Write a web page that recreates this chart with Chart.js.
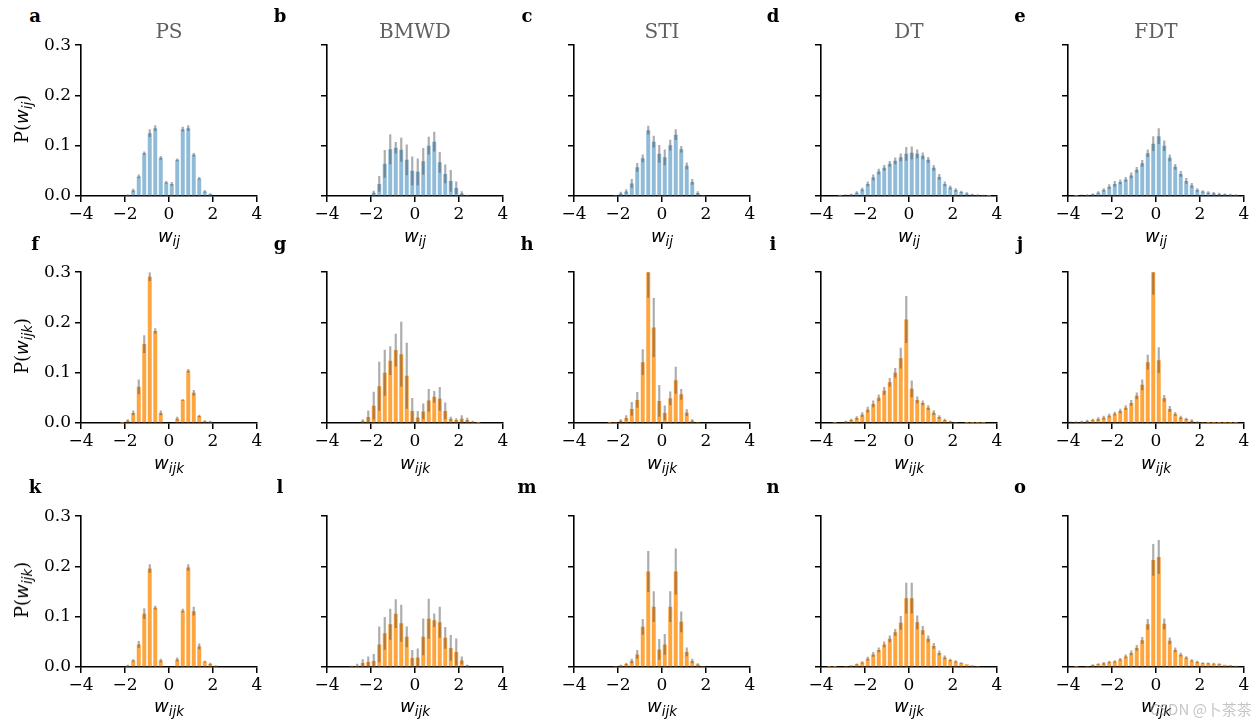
<!DOCTYPE html>
<html><head><meta charset="utf-8">
<script src="https://cdn.jsdelivr.net/npm/chart.js@4/dist/chart.umd.min.js"></script>
<style>
html,body{margin:0;padding:0;background:#fff;}
body{width:1256px;height:727px;position:relative;overflow:hidden;font-family:"DejaVu Serif",serif;}
canvas{position:absolute;}
.t{position:absolute;white-space:nowrap;line-height:1;}
.letter{font-weight:bold;font-size:18px;transform:translate(-50%,-50%);}
.title{font-size:20px;color:#606060;transform:translate(-50%,-50%);}
.xl{font-size:18px;transform:translateX(-50%);}
.yl{font-size:18px;transform:translate(-50%,-50%) rotate(-90deg);}
.m{font-family:"DejaVu Sans",sans-serif;font-style:italic;}
.s{font-family:"DejaVu Sans",sans-serif;font-style:italic;font-size:13.5px;position:relative;top:4px;}
.wm{font-family:"Noto Sans CJK SC",sans-serif;font-size:15px;color:rgba(150,150,150,0.55);transform:translateY(-50%);}
</style>
</head><body>
<script>
// ---- data ----
const binCenters = [-3.875,-3.625,-3.375,-3.125,-2.875,-2.625,-2.375,-2.125,-1.875,-1.625,-1.375,-1.125,-0.875,-0.625,-0.375,-0.125,
                    0.125,0.375,0.625,0.875,1.125,1.375,1.625,1.875,2.125,2.375,2.625,2.875,3.125,3.375,3.625,3.875];
const xTicks = [-4,-2,0,2,4];
const yTicks = [0,0.1,0.2,0.3];
const methods = ['PS','BMWD','STI','DT','FDT'];
const panelLetters = ['a','b','c','d','e','f','g','h','i','j','k','l','m','n','o'];

// row 1: P(w_ij)
const psPair      = [0,0,0,0,0,0,0,0, 0.002,0.011,0.039,0.085,0.125,0.135,0.076,0.027, 0.024,0.072,0.133,0.135,0.082,0.035,0.009,0.004, 0,0,0,0,0,0,0,0];
const psPairErr   = [0,0,0,0,0,0,0,0, 0.001,0.003,0.003,0.003,0.007,0.005,0.003,0.002, 0.003,0.002,0.004,0.005,0.003,0.002,0.002,0.001, 0,0,0,0,0,0,0,0];
const bmwdPair    = [0,0,0,0,0,0,0,0, 0.0066,0.024,0.064,0.093,0.096,0.092,0.072,0.050, 0.048,0.069,0.100,0.108,0.067,0.044,0.030,0.016, 0.005,0.001,0,0,0,0,0,0];
const bmwdPairErr = [0,0,0,0,0,0,0,0, 0.003,0.015,0.027,0.029,0.011,0.023,0.030,0.028, 0.026,0.026,0.017,0.019,0.020,0.018,0.021,0.012, 0.004,0.001,0,0,0,0,0,0];
const stiPair     = [0,0,0,0,0,0,0,0.001, 0.005,0.009,0.025,0.057,0.075,0.131,0.108,0.084, 0.077,0.101,0.122,0.093,0.060,0.028,0.006,0.001, 0,0,0,0,0,0,0,0];
const stiPairErr  = [0,0,0,0,0,0,0,0, 0.003,0.004,0.008,0.008,0.007,0.008,0.011,0.017, 0.015,0.010,0.010,0.006,0.006,0.005,0.003,0, 0,0,0,0,0,0,0,0];
const dtPair      = [0,0,0,0.0007,0.0013,0.003,0.0066,0.013, 0.024,0.037,0.0485,0.056,0.064,0.070,0.077,0.084, 0.086,0.084,0.080,0.072,0.056,0.038,0.024,0.017, 0.012,0.008,0.005,0.003,0.002,0.001,0.0007,0];
const dtPairErr   = [0,0,0,0.001,0.001,0.001,0.002,0.003, 0.004,0.005,0.005,0.005,0.005,0.006,0.007,0.013, 0.012,0.008,0.006,0.005,0.005,0.005,0.004,0.003, 0.003,0.002,0.002,0.001,0.001,0.001,0,0];
const fdtPair     = [0,0.0007,0.0013,0.002,0.0033,0.0066,0.012,0.0186, 0.024,0.028,0.033,0.041,0.052,0.065,0.085,0.104, 0.119,0.100,0.076,0.058,0.044,0.030,0.021,0.012, 0.009,0.0066,0.0053,0.004,0.0033,0.0027,0.002,0];
const fdtPairErr  = [0,0,0.001,0.001,0.001,0.002,0.003,0.004, 0.005,0.004,0.004,0.005,0.005,0.006,0.007,0.014, 0.015,0.010,0.006,0.005,0.005,0.005,0.004,0.003, 0.002,0.002,0.002,0.002,0.001,0.001,0.001,0];

// row 2: P(w_ijk)
const psTri       = [0,0,0,0,0,0,0,0.0007, 0.0046,0.020,0.072,0.157,0.291,0.183,0.020,0, 0,0.0086,0.046,0.104,0.060,0.014,0.004,0.0026, 0,0,0,0,0,0,0,0];
const psTriErr    = [0,0,0,0,0,0,0,0, 0.002,0.004,0.014,0.017,0.008,0.005,0.004,0, 0,0.003,0.001,0.003,0.005,0.002,0.001,0.001, 0,0,0,0,0,0,0,0];
const bmwdTri     = [0,0,0,0,0,0,0.004,0.012, 0.0345,0.073,0.100,0.124,0.145,0.137,0.094,0.024, 0.011,0.023,0.045,0.052,0.048,0.024,0.008,0.006, 0.0086,0.006,0.0026,0.0007,0,0,0,0];
const bmwdTriErr  = [0,0,0,0,0,0,0.003,0.012, 0.027,0.048,0.045,0.028,0.032,0.064,0.065,0.025, 0.012,0.015,0.022,0.011,0.023,0.016,0.004,0.003, 0.006,0.004,0.001,0,0,0,0,0];
const stiTri      = [0,0,0,0,0,0,0.0007,0.002, 0.0046,0.010,0.028,0.046,0.121,0.310,0.190,0.044, 0.020,0.049,0.085,0.057,0.0206,0.0046,0.001,0, 0,0,0,0,0,0,0,0];
const stiTriErr   = [0,0,0,0,0,0,0,0, 0.002,0.005,0.013,0.015,0.025,0.060,0.058,0.031, 0.014,0.013,0.026,0.010,0.006,0.002,0,0, 0,0,0,0,0,0,0,0];
const dtTri       = [0,0,0.0007,0.0013,0.003,0.006,0.010,0.0166, 0.0265,0.038,0.050,0.064,0.081,0.100,0.129,0.206, 0.068,0.046,0.040,0.0305,0.0206,0.012,0.006,0.003, 0.002,0.0013,0.0007,0.0007,0.0005,0.0003,0,0];
const dtTriErr    = [0,0,0,0,0.001,0.002,0.003,0.004, 0.005,0.006,0.006,0.007,0.008,0.009,0.020,0.046, 0.016,0.006,0.004,0.004,0.004,0.003,0.002,0.001, 0,0,0,0,0,0,0,0];
const fdtTri      = [0.0013,0.002,0.0026,0.004,0.006,0.008,0.0106,0.0146, 0.0186,0.0239,0.0305,0.040,0.054,0.076,0.121,0.310, 0.125,0.049,0.028,0.018,0.011,0.008,0.0046,0.002, 0.001,0.0005,0.0005,0.0005,0.0005,0.0005,0.0005,0];
const fdtTriErr   = [0.001,0.001,0.001,0.002,0.002,0.003,0.003,0.003, 0.003,0.004,0.004,0.005,0.006,0.010,0.014,0.054, 0.025,0.006,0.005,0.003,0.003,0.002,0.002,0.001, 0,0,0,0,0,0,0,0];

// row 3: P(w_ijk)
const psTriB      = [0,0,0,0,0,0,0,0, 0.0026,0.013,0.045,0.106,0.196,0.118,0.013,0, 0,0.015,0.112,0.198,0.111,0.041,0.011,0.006, 0.002,0,0,0,0,0,0,0];
const psTriBErr   = [0,0,0,0,0,0,0,0, 0.001,0.002,0.006,0.010,0.008,0.003,0.003,0, 0,0.003,0.003,0.006,0.008,0.005,0.001,0.002, 0.001,0,0,0,0,0,0,0];
const bmwdTriB    = [0,0,0,0,0.001,0.0026,0.008,0.010, 0.012,0.045,0.067,0.085,0.106,0.087,0.060,0.018, 0.019,0.060,0.096,0.093,0.089,0.058,0.038,0.030, 0.013,0.003,0,0,0,0,0,0];
const bmwdTriBErr = [0,0,0,0,0.001,0.003,0.007,0.010, 0.013,0.035,0.032,0.030,0.028,0.036,0.020,0.015, 0.017,0.036,0.039,0.013,0.030,0.021,0.025,0.026, 0.007,0.001,0,0,0,0,0,0];
const stiTriB     = [0,0,0,0,0,0,0,0.001, 0.003,0.006,0.012,0.025,0.080,0.190,0.120,0.035, 0.045,0.120,0.190,0.090,0.030,0.012,0.005,0.002, 0,0,0,0,0,0,0,0];
const stiTriBErr  = [0,0,0,0,0,0,0,0, 0.001,0.002,0.004,0.008,0.015,0.040,0.030,0.020, 0.020,0.030,0.045,0.020,0.008,0.004,0.002,0, 0,0,0,0,0,0,0,0];
const dtTriB      = [0,0.0005,0.0007,0.0013,0.002,0.0033,0.0053,0.009, 0.0165,0.025,0.034,0.045,0.056,0.069,0.088,0.137, 0.137,0.089,0.073,0.056,0.042,0.028,0.019,0.014, 0.011,0.008,0.0053,0.0033,0.002,0.0013,0,0];
const dtTriBErr   = [0,0,0,0,0,0,0.001,0.002, 0.003,0.004,0.004,0.005,0.006,0.006,0.013,0.030, 0.030,0.013,0.008,0.006,0.005,0.004,0.003,0.002, 0.002,0.001,0,0,0,0,0,0];
const fdtTriB     = [0,0.0007,0.0013,0.002,0.004,0.006,0.0073,0.010, 0.011,0.015,0.021,0.028,0.038,0.053,0.085,0.213, 0.219,0.086,0.052,0.034,0.0245,0.0185,0.013,0.010, 0.008,0.0073,0.0066,0.006,0.0046,0.004,0.0026,0];
const fdtTriBErr  = [0,0,0,0,0.001,0.001,0.002,0.002, 0.002,0.002,0.003,0.004,0.005,0.006,0.010,0.031, 0.033,0.010,0.006,0.004,0.003,0.002,0.002,0.002, 0.001,0.001,0.001,0.001,0,0,0,0];

// ---- layout / style ----
const BLUE = '#8fbbd9', ORANGE = '#ffa53e', ERR = 'rgba(70,70,70,0.45)';
const rows = [
  {vals:[psPair,bmwdPair,stiPair,dtPair,fdtPair], errs:[psPairErr,bmwdPairErr,stiPairErr,dtPairErr,fdtPairErr], color:BLUE, sub:'ij'},
  {vals:[psTri,bmwdTri,stiTri,dtTri,fdtTri], errs:[psTriErr,bmwdTriErr,stiTriErr,dtTriErr,fdtTriErr], color:ORANGE, sub:'ijk'},
  {vals:[psTriB,bmwdTriB,stiTriB,dtTriB,fdtTriB], errs:[psTriBErr,bmwdTriBErr,stiTriBErr,dtTriBErr,fdtTriBErr], color:ORANGE, sub:'ijk'}
];
const colLeft = [81,327,574,821,1068];
const rowTop = [45,272,516];
const PW = 176, PH = 151, LEFTW = 80, TOPP = 14, RIGHTP = 22, BOTH = 40;
const letterX = [35,280,527,773,1020], letterY = [16,244,487];
const xLabelY = [227,454,697];

function addText(cls, html, x, y){
  const d = document.createElement('div');
  d.className = 't ' + cls; d.innerHTML = html;
  d.style.left = x + 'px'; d.style.top = y + 'px';
  document.body.appendChild(d);
  return d;
}

function makeChart(r, c){
  const cv = document.createElement('canvas');
  const W = LEFTW + PW + RIGHTP, H = TOPP + PH + BOTH;
  cv.width = W; cv.height = H;
  cv.style.width = W + 'px'; cv.style.height = H + 'px';
  cv.style.left = (colLeft[c] - LEFTW) + 'px'; cv.style.top = (rowTop[r] - TOPP) + 'px';
  document.body.appendChild(cv);
  const vals = rows[r].vals[c], errs = rows[r].errs[c];
  const barData = binCenters.map((x,i)=>({x:x, y:vals[i]}));
  const errData = [];
  binCenters.forEach((x,i)=>{ if (errs[i] > 0) errData.push({x:x, y:[vals[i]-errs[i], vals[i]+errs[i]]}); });
  const showY = c === 0;
  new Chart(cv, {
    type:'bar',
    data:{datasets:[
      {data:errData, backgroundColor:ERR, barThickness:1.5, grouped:false, order:0, borderWidth:0},
      {data:barData, backgroundColor:rows[r].color, categoryPercentage:1, barPercentage:0.72, grouped:false, order:1, borderWidth:0}
    ]},
    options:{
      responsive:false, animation:false, events:[],
      layout:{padding:{left:0, top:TOPP, right:RIGHTP, bottom:0}},
      plugins:{legend:{display:false}, tooltip:{enabled:false}, title:{display:false}},
      scales:{
        x:{type:'linear', min:xTicks[0], max:xTicks[xTicks.length-1], offset:false,
           afterFit:(s)=>{s.height = BOTH;},
           afterBuildTicks:(s)=>{s.ticks = xTicks.map(v=>({value:v}));},
           grid:{display:true, offset:false, drawOnChartArea:false, drawTicks:true, tickLength:6, color:'#000', lineWidth:1.5},
           border:{display:true, color:'#000', width:1.6},
           ticks:{font:{family:'DejaVu Serif', size:17}, color:'#000', padding:2, maxRotation:0,
                  callback:(v)=>String(v).replace('-', '\u2212')}},
        y:{type:'linear', min:yTicks[0], max:yTicks[yTicks.length-1],
           afterFit:(s)=>{s.width = LEFTW;},
           afterBuildTicks:(s)=>{s.ticks = yTicks.map(v=>({value:v}));},
           grid:{display:true, drawOnChartArea:false, drawTicks:true, tickLength:6, color:'#000', lineWidth:1.5},
           border:{display:true, color:'#000', width:1.6},
           ticks:{font:{family:'DejaVu Serif', size:17}, color:'#000', padding:4,
                  callback:(v)=> showY ? Number(v).toFixed(1) : ''}}
      }
    }
  });
}

for (let r=0; r<3; r++){
  for (let c=0; c<5; c++){
    makeChart(r, c);
    addText('letter', panelLetters[r*5+c], letterX[c], letterY[r]);
    const sub = rows[r].sub;
    addText('xl', '<span class="m">w</span><span class="s">'+sub+'</span>', colLeft[c] + PW/2, xLabelY[r]);
  }
  addText('yl', 'P(<span class="m">w</span><span class="s">'+rows[r].sub+'</span>)', 22, rowTop[r] + PH/2 - 2);
}
for (let c=0; c<5; c++) addText('title', methods[c], colLeft[c] + PW/2, 31);
addText('wm', 'CSDN @卜茶茶', 1150, 708);
</script>
</body></html>
